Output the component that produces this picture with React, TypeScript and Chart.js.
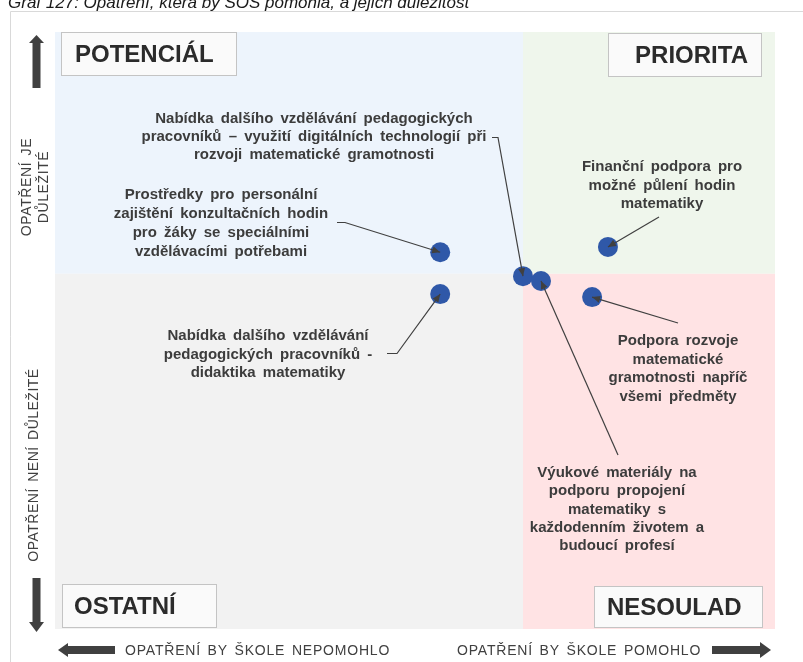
import React, { useEffect, useRef } from "react";
import { Chart, registerables } from "chart.js";

Chart.register(...registerables);

// ---------- data ----------
const titleText = "Graf 127: Opatření, která by SOŠ pomohla, a jejich důležitost";

const measureLabels: string[][] = [
  ["Prostředky pro personální", "zajištění konzultačních hodin", "pro žáky se speciálními", "vzdělávacími potřebami"],
  ["Nabídka dalšího vzdělávání pedagogických", "pracovníků – využití digitálních technologií při", "rozvoji matematické gramotnosti"],
  ["Finanční podpora pro", "možné půlení hodin", "matematiky"],
  ["Nabídka dalšího vzdělávání", "pedagogických pracovníků -", "didaktika matematiky"],
  ["Podpora rozvoje", "matematické", "gramotnosti napříč", "všemi předměty"],
  ["Výukové materiály na", "podporu propojení", "matematiky s", "každodenním životem a", "budoucí profesí"],
];

// "would help the school" (x) and "importance" (y), arbitrary 0–100 scale
const helpScore = [53.5, 65.0, 76.8, 53.5, 74.6, 67.5];
const importanceScore = [63.1, 59.1, 64.0, 56.1, 55.6, 58.3];

const helpSplit = 65;
const importanceSplit = 59.5;

const quadrantNames = ["POTENCIÁL", "PRIORITA", "OSTATNÍ", "NESOULAD"];
const yAxisTopLines = ["OPATŘENÍ JE", "DŮLEŽITÉ"];
const yAxisBottomText = "OPATŘENÍ NENÍ DŮLEŽITÉ";
const xAxisLeftText = "OPATŘENÍ BY ŠKOLE NEPOMOHLO";
const xAxisRightText = "OPATŘENÍ BY ŠKOLE POMOHLO";

// ---------- layout (callout text placement and leader start paths) ----------
const calloutLayout = [
  { cx: 221, y0: 195, lh: 18.8, path: [[337, 222.5], [345, 222.5]] },
  { cx: 314, y0: 119, lh: 18, path: [[492, 137.5], [498, 137.5]] },
  { cx: 662, y0: 167, lh: 18.5, path: [[659, 217]] },
  { cx: 268, y0: 336, lh: 18.5, path: [[387, 353.5], [397, 353.5]] },
  { cx: 678, y0: 341, lh: 18.5, path: [[678, 323]] },
  { cx: 617, y0: 473, lh: 18.3, path: [[618, 455]] },
];

const FONT = "'Liberation Sans', Arial, sans-serif";
const TEXT = "#3c3c3c";
const DARK = "#404040";

function drawArrowHead(ctx: CanvasRenderingContext2D, fx: number, fy: number, tx: number, ty: number) {
  const ang = Math.atan2(ty - fy, tx - fx);
  const len = 8, hw = 3.5;
  ctx.beginPath();
  ctx.moveTo(tx, ty);
  ctx.lineTo(tx - len * Math.cos(ang) + hw * Math.sin(ang), ty - len * Math.sin(ang) - hw * Math.cos(ang));
  ctx.lineTo(tx - len * Math.cos(ang) - hw * Math.sin(ang), ty - len * Math.sin(ang) + hw * Math.cos(ang));
  ctx.closePath();
  ctx.fill();
}

function poly(ctx: CanvasRenderingContext2D, pts: number[][]) {
  ctx.beginPath();
  ctx.moveTo(pts[0][0], pts[0][1]);
  for (let i = 1; i < pts.length; i++) ctx.lineTo(pts[i][0], pts[i][1]);
  ctx.closePath();
  ctx.fill();
}

function spacedText(ctx: CanvasRenderingContext2D, s: string, x: number, y: number, spacing: number, wordSp = 0) {
  (ctx as any).letterSpacing = spacing + "px";
  (ctx as any).wordSpacing = wordSp + "px";
  ctx.fillText(s, x, y);
  (ctx as any).letterSpacing = "0px";
  (ctx as any).wordSpacing = "0px";
}

const quadrantPlugin = {
  id: "quadrants",
  beforeDatasetsDraw(chart: any) {
    const { ctx, chartArea: a, scales } = chart;
    const sx = scales.x.getPixelForValue(helpSplit);
    const sy = scales.y.getPixelForValue(importanceSplit);
    ctx.save();
    ctx.fillStyle = "#EDF4FC";
    ctx.fillRect(a.left, a.top, sx - a.left, sy - a.top);
    ctx.fillStyle = "#EFF6EC";
    ctx.fillRect(sx, a.top, a.right - sx, sy - a.top);
    ctx.fillStyle = "#F2F2F2";
    ctx.fillRect(a.left, sy, sx - a.left, a.bottom - sy);
    ctx.fillStyle = "#FFE3E4";
    ctx.fillRect(sx, sy, a.right - sx, a.bottom - sy);

    // quadrant name boxes
    const boxes = [
      { x: a.left + 6, y: a.top, w: 176, h: 44, align: "left", tx: a.left + 20 },
      { x: a.right - 167, y: a.top + 1, w: 154, h: 44, align: "right", tx: a.right - 27 },
      { x: a.left + 7, y: a.bottom - 45, w: 155, h: 44, align: "left", tx: a.left + 19 },
      { x: a.right - 181, y: a.bottom - 43, w: 169, h: 42, align: "left", tx: a.right - 168 },
    ];
    ctx.font = `bold 24px ${FONT}`;
    ctx.textBaseline = "middle";
    boxes.forEach((b, i) => {
      ctx.fillStyle = "#FAFAFA";
      ctx.fillRect(b.x, b.y, b.w, b.h);
      ctx.strokeStyle = "#C4C4C4";
      ctx.lineWidth = 1;
      ctx.strokeRect(b.x + 0.5, b.y + 0.5, b.w - 1, b.h - 1);
      ctx.fillStyle = "#2b2b2b";
      ctx.textAlign = b.align;
      ctx.fillText(quadrantNames[i], b.tx, b.y + b.h / 2 + 1);
    });
    ctx.restore();
  },
  afterDatasetsDraw(chart: any) {
    const { ctx, scales } = chart;
    ctx.save();
    // leaders
    ctx.strokeStyle = DARK;
    ctx.fillStyle = DARK;
    ctx.lineWidth = 1.2;
    calloutLayout.forEach((c, i) => {
      const px = scales.x.getPixelForValue(helpScore[i]);
      const py = scales.y.getPixelForValue(importanceScore[i]);
      const pts = [...c.path, [px, py]];
      ctx.beginPath();
      ctx.moveTo(pts[0][0], pts[0][1]);
      for (let k = 1; k < pts.length; k++) ctx.lineTo(pts[k][0], pts[k][1]);
      ctx.stroke();
      const prev = pts[pts.length - 2];
      drawArrowHead(ctx, prev[0], prev[1], px, py);
    });
    // callout text
    ctx.fillStyle = TEXT;
    ctx.font = `bold 15px ${FONT}`;
    ctx.textAlign = "center";
    ctx.textBaseline = "middle";
    calloutLayout.forEach((c, i) => {
      measureLabels[i].forEach((line, k) => {
        spacedText(ctx, line, c.cx, c.y0 + k * c.lh, 0, 3);
      });
    });
    ctx.restore();
  },
  afterDraw(chart: any) {
    const { ctx } = chart;
    ctx.save();
    // frame
    ctx.strokeStyle = "#D9D9D9";
    ctx.lineWidth = 1;
    ctx.beginPath();
    ctx.moveTo(10.5, 662);
    ctx.lineTo(10.5, 11.5);
    ctx.lineTo(803, 11.5);
    ctx.stroke();

    // title (clipped at top)
    ctx.fillStyle = "#1a1a1a";
    ctx.font = `italic 17px ${FONT}`;
    ctx.textAlign = "left";
    ctx.textBaseline = "alphabetic";
    ctx.fillText(titleText, 8, 8);

    // y axis texts
    ctx.fillStyle = DARK;
    ctx.font = `14px ${FONT}`;
    ctx.textAlign = "center";
    ctx.textBaseline = "middle";
    ctx.save();
    ctx.translate(27, 187);
    ctx.rotate(-Math.PI / 2);
    spacedText(ctx, yAxisTopLines[0], 0, 0, 0.6, 2);
    ctx.restore();
    ctx.save();
    ctx.translate(44, 187);
    ctx.rotate(-Math.PI / 2);
    spacedText(ctx, yAxisTopLines[1], 0, 0, 0.6);
    ctx.restore();
    ctx.save();
    ctx.translate(34, 465);
    ctx.rotate(-Math.PI / 2);
    spacedText(ctx, yAxisBottomText, 0, 0, 0.5, 2);
    ctx.restore();

    // x axis texts
    ctx.textAlign = "left";
    spacedText(ctx, xAxisLeftText, 125, 651, 0.8, 2);
    spacedText(ctx, xAxisRightText, 457, 651, 0.8, 2);

    // thick arrows
    ctx.fillStyle = DARK;
    // up
    ctx.fillRect(32.5, 42, 8, 46);
    poly(ctx, [[29, 43], [44, 43], [36.5, 35]]);
    // down
    ctx.fillRect(32.5, 578, 8, 45);
    poly(ctx, [[29, 622], [44, 622], [36.5, 632]]);
    // left
    ctx.fillRect(67, 646, 48, 8);
    poly(ctx, [[68, 643], [68, 657], [58, 650]]);
    // right
    ctx.fillRect(712, 646, 49, 8);
    poly(ctx, [[760, 642], [760, 658], [771, 650]]);
    ctx.restore();
  },
};

export default function App() {
  const ref = useRef<HTMLCanvasElement | null>(null);
  useEffect(() => {
    if (!ref.current) return;
    const chart = new Chart(ref.current, {
      type: "scatter",
      data: {
        datasets: [
          {
            data: helpScore.map((x, i) => ({ x, y: importanceScore[i] })),
            pointRadius: 10,
            pointHoverRadius: 10,
            backgroundColor: "#2F58A8",
            borderWidth: 0,
          },
        ],
      },
      options: {
        responsive: false,
        animation: false,
        events: [],
        layout: { padding: { left: 55, top: 32, right: 28, bottom: 33 } },
        plugins: { legend: { display: false }, tooltip: { enabled: false }, title: { display: false } },
        scales: {
          x: { type: "linear", min: 0, max: 100, display: false },
          y: { type: "linear", min: 0, max: 100, display: false },
        },
      },
      plugins: [quadrantPlugin],
    } as any);
    return () => chart.destroy();
  }, []);
  return (
    <div style={{ position: "fixed", left: 0, top: 0, width: 803, height: 662, background: "#fff" }}>
      <canvas ref={ref} width={803} height={662} style={{ display: "block", width: 803, height: 662 }} />
    </div>
  );
}
